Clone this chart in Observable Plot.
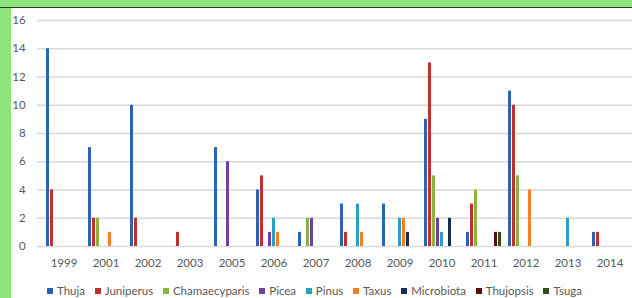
<!DOCTYPE html>
<html>
<head>
<meta charset="utf-8">
<script src="https://cdn.jsdelivr.net/npm/d3@7"></script>
<script src="https://cdn.jsdelivr.net/npm/@observablehq/plot@0.6"></script>
<style>
  html, body { margin: 0; padding: 0; background: #fff; }
  #wrap { position: relative; width: 632px; height: 298px; overflow: hidden; background: #fff; }
  #chart { position: absolute; left: 0; top: 0; width: 642px; }
  #chart svg { max-width: none !important; }
  .band-top { position: absolute; left: 0; top: 0; width: 632px; height: 7px; background: #8fe37d; }
  .band-line { position: absolute; left: 0; top: 7px; width: 632px; height: 1px; background: #2b3a2b; }
  .band-left { position: absolute; left: 0; top: 8px; width: 11px; height: 290px; background: #8fe37d; }
  #legend { position: absolute; left: 47px; top: 284px; width: 535px; display: flex; justify-content: space-between; align-items: center;
            font-family: Lato, sans-serif; font-size: 11.5px; color: #595959; line-height: 14px; white-space: nowrap; }
  .item { display: flex; align-items: center; }
  .sw { width: 6px; height: 6px; margin-right: 4px; }
</style>
</head>
<body>
<div id="wrap">
  <div id="chart"></div>
  <div class="band-top"></div>
  <div class="band-line"></div>
  <div class="band-left"></div>
  <div id="legend"></div>
</div>
<script>
const years = ["1999","2001","2002","2003","2005","2006","2007","2008","2009","2010","2011","2012","2013","2014"];
const series = ["Thuja","Juniperus","Chamaecyparis","Picea","Pinus","Taxus","Microbiota","Thujopsis","Tsuga"];
const colors = ["#2e62b5","#c0302e","#8cb33c","#7040a0","#2b9fc2","#f98020","#172b55","#5c0f0f","#2f4f1b"];
const yTicks = [0,2,4,6,8,10,12,14,16];

const Thuja         = [14,7,10,0,7,4,1,3,3,9,1,11,0,1];
const Juniperus     = [4,2,2,1,0,5,0,1,0,13,3,10,0,1];
const Chamaecyparis = [0,2,0,0,0,0,2,0,0,5,4,5,0,0];
const Picea         = [0,0,0,0,6,1,2,0,0,2,0,0,0,0];
const Pinus         = [0,0,0,0,0,2,0,3,2,1,0,0,2,0];
const Taxus         = [0,1,0,0,0,1,0,1,2,0,0,4,0,0];
const Microbiota    = [0,0,0,0,0,0,0,0,1,2,0,0,0,0];
const Thujopsis     = [0,0,0,0,0,0,0,0,0,0,1,0,0,0];
const Tsuga         = [0,0,0,0,0,0,0,0,0,0,1,0,0,0];

const values = [Thuja, Juniperus, Chamaecyparis, Picea, Pinus, Taxus, Microbiota, Thujopsis, Tsuga];

const W = 642, H = 270, ML = 37.1, MR = 5.1, MT = 20, MB = 24;
const PI = 0.16, PO = 0.08;
const band = d3.scaleBand(years, [ML, W - MR]).paddingInner(PI).paddingOuter(PO);
const sub = band.bandwidth() / series.length;

const marks = [
  Plot.ruleY(yTicks, {stroke: "#d9d9d9", strokeWidth: 1.5})
];
series.forEach((s, i) => {
  const rows = years.map((y, j) => ({year: y, value: values[i][j]})).filter(d => d.value > 0);
  marks.push(Plot.barY(rows, {
    x: "year", y: "value", fill: colors[i],
    insetLeft: i * sub, insetRight: (series.length - 1 - i) * sub
  }));
});

const chart = Plot.plot({
  width: W, height: H,
  marginLeft: ML, marginRight: MR, marginTop: MT, marginBottom: MB,
  style: {fontFamily: "Lato, sans-serif", fontSize: "11.5px", color: "#595959", background: "transparent", maxWidth: "none"},
  x: {domain: years, paddingInner: PI, paddingOuter: PO, label: null, tickSize: 0, tickPadding: 12},
  y: {domain: [0, 16], ticks: yTicks, label: null, tickSize: 0, tickPadding: 12},
  marks
});
chart.style.maxWidth = "none";
document.getElementById("chart").appendChild(chart);

const legend = document.getElementById("legend");
series.forEach((s, i) => {
  const it = document.createElement("div");
  it.className = "item";
  const sw = document.createElement("div");
  sw.className = "sw";
  sw.style.background = colors[i];
  const tx = document.createElement("span");
  tx.textContent = s;
  it.appendChild(sw); it.appendChild(tx);
  legend.appendChild(it);
});
</script>
</body>
</html>
